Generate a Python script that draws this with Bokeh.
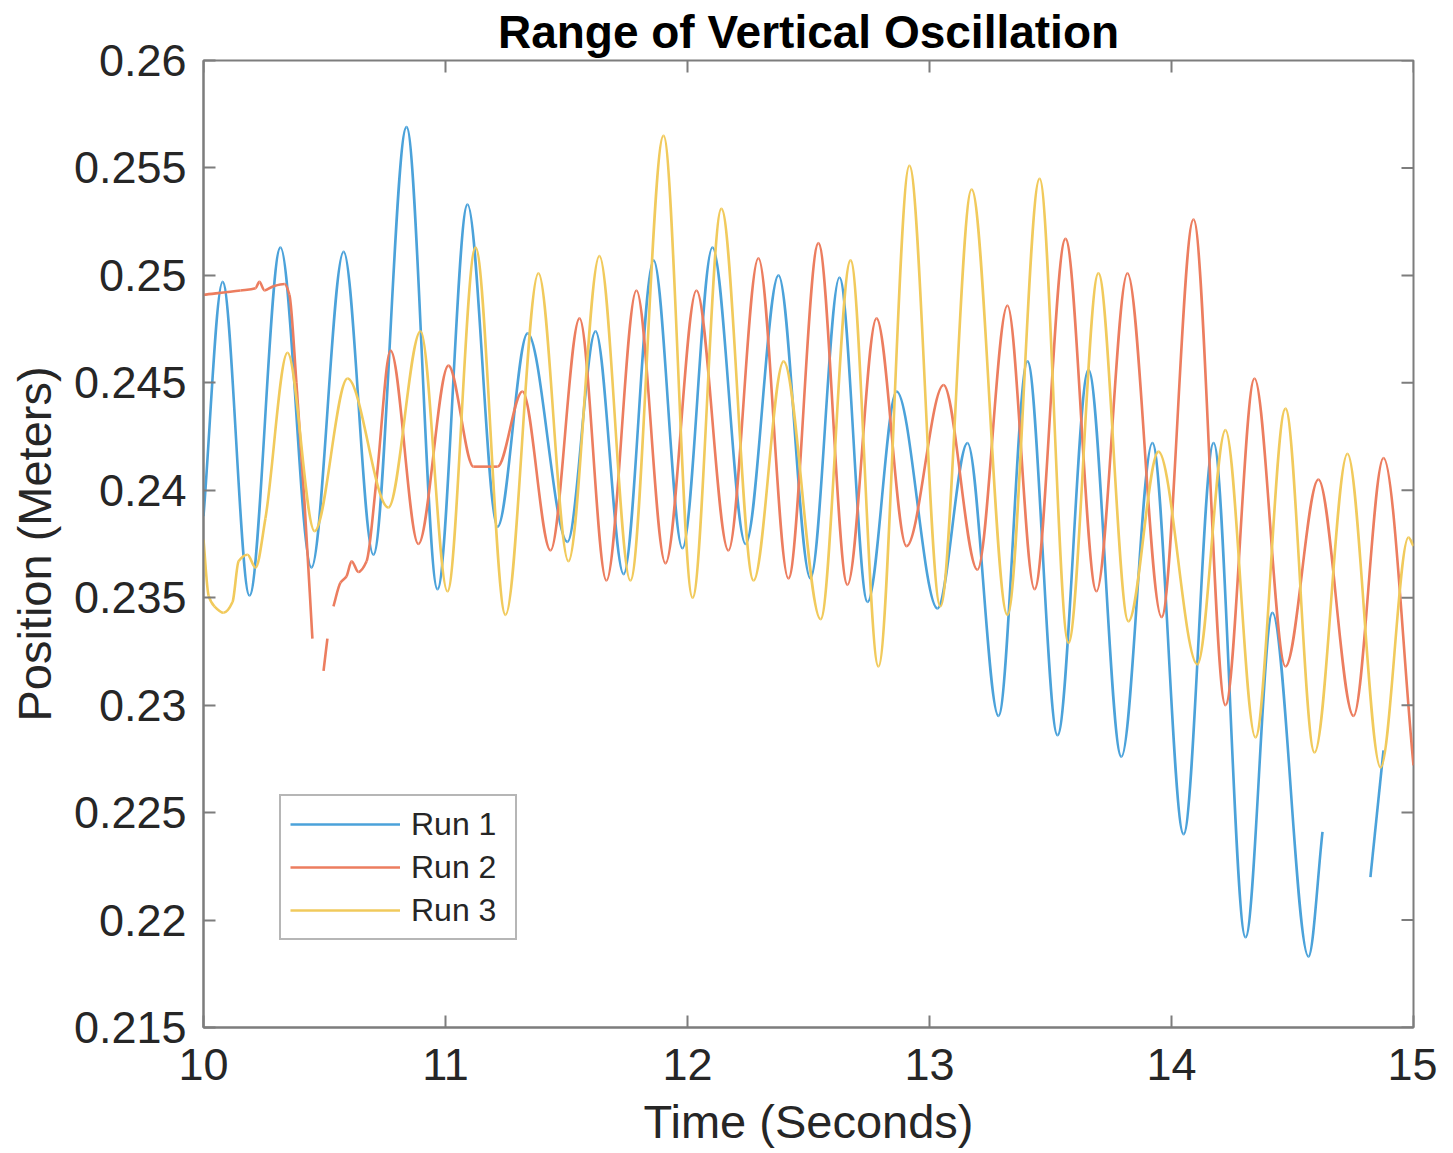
import numpy as np
from bokeh.plotting import figure
from bokeh.models import (Range1d, FixedTicker, Legend, LegendItem, ColumnDataSource)
from bokeh.embed import file_html
from bokeh.resources import INLINE

# ---------------- data ----------------
title_text = "Range of Vertical Oscillation"
x_label = "Time (Seconds)"
y_label = "Position (Meters)"
series_names = ["Run 1", "Run 2", "Run 3"]

x_ticks = [10, 11, 12, 13, 14, 15]
x_tick_labels = ["10", "11", "12", "13", "14", "15"]
y_ticks = [0.215, 0.22, 0.225, 0.23, 0.235, 0.24, 0.245, 0.25, 0.255, 0.26]
y_tick_labels = ["0.215", "0.22", "0.225", "0.23", "0.235", "0.24", "0.245",
                 "0.25", "0.255", "0.26"]

nan = float("nan")

# Run 1 (peaks / troughs), NaN marks a break in the recorded trace
run1_t = [10.000, 10.079, 10.190, 10.318, 10.446, 10.579, 10.702, 10.839, 10.967,
          11.091, 11.215, 11.339, 11.504, 11.620, 11.736, 11.860, 11.979, 12.103,
          12.240, 12.376, 12.508, 12.628, 12.744, 12.864, 13.033, 13.157, 13.285,
          13.405, 13.529, 13.657, 13.793, 13.921, 14.050, 14.174, 14.306, 14.417,
          14.566, 14.624, nan, 14.822, 14.876]
run1_v = [0.2388, 0.2497, 0.2351, 0.2513, 0.2364, 0.2511, 0.2370, 0.2569, 0.2354,
          0.2533, 0.2383, 0.2473, 0.2376, 0.2474, 0.2361, 0.2507, 0.2373, 0.2513,
          0.2375, 0.2500, 0.2359, 0.2499, 0.2348, 0.2446, 0.2345, 0.2422, 0.2295,
          0.2460, 0.2286, 0.2456, 0.2276, 0.2422, 0.2240, 0.2422, 0.2192, 0.2343,
          0.2183, 0.2241, nan, 0.2220, 0.2279]

# Run 2
run2_t = [10.000, 10.153, 10.215, 10.231, 10.252, 10.289, 10.335, 10.355, 10.384,
          10.417, 10.450, nan, 10.496, 10.512, nan, 10.537, 10.566, 10.591, 10.612,
          10.640, 10.674, 10.715, 10.773, 10.888, 11.012, 11.116, 11.215, 11.318,
          11.434, 11.554, 11.665, 11.789, 11.909, 12.037, 12.169, 12.293, 12.417,
          12.541, 12.661, 12.781, 12.905, 13.058, 13.198, 13.322, 13.434, 13.562,
          13.690, 13.818, 13.959, 14.091, 14.223, 14.343, 14.471, 14.607, 14.752,
          14.876, 15.000]
run2_v = [0.2491, 0.2493, 0.2494, 0.2497, 0.2493, 0.2495, 0.2496, 0.2491, 0.2450,
          0.2395, 0.2331, nan, 0.2316, 0.2331, nan, 0.2346, 0.2357, 0.2360, 0.2367,
          0.2362, 0.2367, 0.2405, 0.2465, 0.2375, 0.2458, 0.2411, 0.2411, 0.2446,
          0.2372, 0.2480, 0.2358, 0.2493, 0.2366, 0.2493, 0.2372, 0.2508, 0.2359,
          0.2515, 0.2356, 0.2480, 0.2374, 0.2449, 0.2363, 0.2486, 0.2354, 0.2517,
          0.2353, 0.2501, 0.2341, 0.2526, 0.2300, 0.2452, 0.2318, 0.2405, 0.2295,
          0.2415, 0.2272]

# Run 3
run3_t = [10.000, 10.021, 10.045, 10.083, 10.120, 10.145, 10.182, 10.215, 10.256,
          10.347, 10.459, 10.595, 10.764, 10.897, 11.008, 11.124, 11.248, 11.384,
          11.508, 11.636, 11.764, 11.901, 12.021, 12.140, 12.273, 12.397, 12.550,
          12.674, 12.789, 12.917, 13.045, 13.174, 13.322, 13.455, 13.574, 13.698,
          13.822, 13.946, 14.107, 14.223, 14.347, 14.471, 14.591, 14.727, 14.864,
          14.979, 15.000]
run3_v = [0.2377, 0.2351, 0.2346, 0.2343, 0.2348, 0.2367, 0.2370, 0.2364, 0.2387,
          0.2464, 0.2381, 0.2452, 0.2392, 0.2474, 0.2353, 0.2513, 0.2342, 0.2501,
          0.2367, 0.2509, 0.2358, 0.2565, 0.2350, 0.2531, 0.2358, 0.2460, 0.2340,
          0.2507, 0.2318, 0.2551, 0.2346, 0.2540, 0.2342, 0.2545, 0.2329, 0.2501,
          0.2339, 0.2418, 0.2319, 0.2428, 0.2285, 0.2438, 0.2278, 0.2417, 0.2271,
          0.2378, 0.2374]

colors = ["#4BA2DA", "#EC7D5F", "#F1CA5C"]


# ------------- smooth rendering through the read points (PCHIP-shaped Bezier) -------------
def bezier_source(t, v):
    t = np.asarray(t, float)
    v = np.asarray(v, float)
    cols = {k: [] for k in ("x0", "y0", "x1", "y1", "cx0", "cy0", "cx1", "cy1")}
    breaks = np.where(np.isnan(t))[0]
    starts = np.concatenate([[0], breaks + 1])
    ends = np.concatenate([breaks, [len(t)]])
    for s, e in zip(starts, ends):
        x = t[s:e]
        y = v[s:e]
        n = len(x)
        if n < 2:
            continue
        h = np.diff(x)
        d = np.diff(y) / h
        m = np.zeros(n)
        m[0] = d[0]
        m[-1] = d[-1]
        for k in range(1, n - 1):
            if d[k - 1] * d[k] > 0:
                w1 = 2 * h[k] + h[k - 1]
                w2 = h[k] + 2 * h[k - 1]
                m[k] = (w1 + w2) / (w1 / d[k - 1] + w2 / d[k])
        for k in range(n - 1):
            cols["x0"].append(x[k])
            cols["y0"].append(y[k])
            cols["x1"].append(x[k + 1])
            cols["y1"].append(y[k + 1])
            cols["cx0"].append(x[k] + h[k] / 3)
            cols["cy0"].append(y[k] + m[k] * h[k] / 3)
            cols["cx1"].append(x[k + 1] - h[k] / 3)
            cols["cy1"].append(y[k + 1] - m[k + 1] * h[k] / 3)
    return ColumnDataSource(cols)


FONT = "Liberation Sans"
TEXT = "#262626"
AXIS = "#7d7d7d"

p = figure(frame_width=1210, frame_height=967,
           x_range=Range1d(x_ticks[0], x_ticks[-1]),
           y_range=Range1d(y_ticks[0], y_ticks[-1]),
           output_backend="svg", toolbar_location=None,
           min_border_left=203, min_border_right=24, min_border_top=60,
           min_border_bottom=0)
p.background_fill_color = "white"
p.border_fill_color = "white"
p.outline_line_color = AXIS
p.outline_line_width = 2
p.xgrid.visible = False
p.ygrid.visible = False

p.title.text = title_text
p.title.text_font = FONT
p.title.text_font_size = "46px"
p.title.text_font_style = "bold"
p.title.text_color = "#000000"
p.title.align = "center"
p.title.standoff = 6

renderers = []
for t, v, c in zip([run1_t, run2_t, run3_t], [run1_v, run2_v, run3_v], colors):
    src = bezier_source(t, v)
    r = p.bezier(x0="x0", y0="y0", x1="x1", y1="y1", cx0="cx0", cy0="cy0",
                 cx1="cx1", cy1="cy1", source=src, line_color=c, line_width=2.6)
    renderers.append(r)

for ax, ticks, labels in ((p.xaxis[0], x_ticks, x_tick_labels),
                          (p.yaxis[0], y_ticks, y_tick_labels)):
    ax.ticker = FixedTicker(ticks=ticks)
    ax.major_label_overrides = {tk: lb for tk, lb in zip(ticks, labels)}
    ax.major_tick_in = 12
    ax.major_tick_out = 0
    ax.minor_tick_line_color = None
    ax.major_tick_line_color = AXIS
    ax.major_tick_line_width = 2
    ax.axis_line_color = AXIS
    ax.axis_line_width = 2
    ax.major_label_text_font = FONT
    ax.major_label_text_color = TEXT
    ax.major_label_text_font_size = "45px"
    ax.axis_label_text_font = FONT
    ax.axis_label_text_font_size = "47px"
    ax.axis_label_text_font_style = "normal"
    ax.axis_label_text_color = TEXT

p.xaxis[0].axis_label = x_label
p.yaxis[0].axis_label = y_label
p.xaxis[0].major_label_standoff = 21
p.yaxis[0].major_label_standoff = 17
p.xaxis[0].axis_label_standoff = 12
p.yaxis[0].axis_label_standoff = 10

# mirrored inward ticks on the top and right edges of the box (screen-length rays)
p.ray(x=x_ticks, y=[y_ticks[-1]] * len(x_ticks), length=12, length_units="screen",
      angle=-np.pi / 2, line_color=AXIS, line_width=2)
p.ray(x=[x_ticks[-1]] * len(y_ticks), y=y_ticks, length=12, length_units="screen",
      angle=np.pi, line_color=AXIS, line_width=2)

legend = Legend(items=[LegendItem(label=n, renderers=[r])
                       for n, r in zip(series_names, renderers)],
                location=(76, 87))
legend.label_text_font = FONT
legend.label_text_font_size = "32px"
legend.label_text_color = TEXT
legend.border_line_color = "#6e6e6e"
legend.border_line_width = 2
legend.background_fill_color = "white"
legend.background_fill_alpha = 1.0
legend.glyph_width = 110
legend.glyph_height = 38
legend.label_height = 38
legend.label_width = 95
legend.spacing = 5
legend.padding = 9
legend.margin = 0
legend.label_standoff = 11
p.add_layout(legend)

open("out.html", "w").write(file_html(p, INLINE))
